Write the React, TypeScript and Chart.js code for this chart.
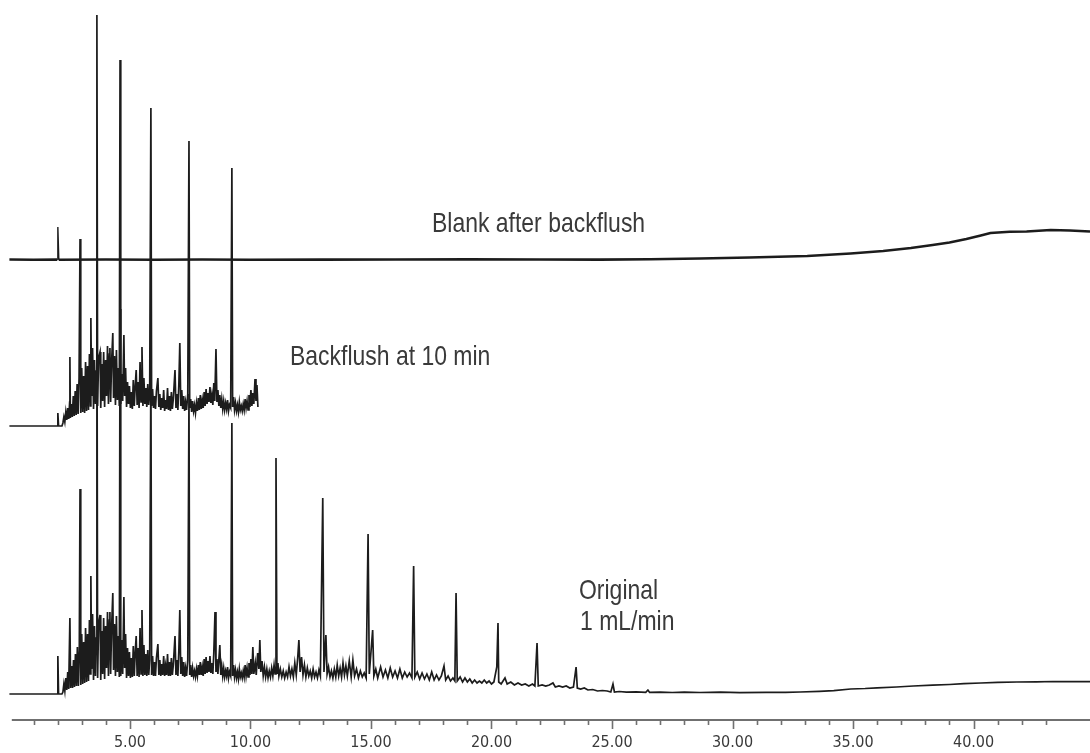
import React, { useEffect, useRef } from "react";
import { Chart, registerables } from "chart.js";

Chart.register(...registerables);

// ---- axis ----
const xMin = -0.39;
const xMax = 44.83;
const yMax = 720;
const majorTicks = [5, 10, 15, 20, 25, 30, 35, 40];
const minorTicks = [1, 2, 3, 4, 6, 7, 8, 9, 11, 12, 13, 14, 16, 17, 18, 19, 21, 22, 23, 24, 26, 27, 28, 29, 31, 32, 33, 34, 36, 37, 38, 39, 41, 42, 43];

// ---- vertical offsets of the stacked chromatograms ----
const blankOffset = 460;
const backflushOffset = 294;
const originalOffset = 26;

// ---- traces: [time (min), response above own baseline] ----
const blankTrace: [number, number][] = [
  [0, 0.5], [1.0, 0.3], [1.98, 0.4], [2.01, 33], [2.05, 0.3], [4, 0.5], [6, 0.3], [8, 0.5], [10, 0.3],
  [13, 0.4], [16, 0.5], [19, 0.6], [22, 0.5], [24.5, 0.4], [26.6, 0.8], [28.65, 1.5], [30.7, 2.5],
  [33.1, 4], [34.9, 6.5], [36.25, 9], [37.4, 12], [38.3, 15], [39.0, 17.5], [39.7, 21], [40.3, 24.5],
  [40.7, 27], [41.5, 28.2], [42.2, 28.5], [43.2, 30], [44.0, 29.5], [44.83, 28.5],
];

const backflushTrace: [number, number][] = [
  [0, 0], [1.98, 0], [2.01, 13], [2.04, 0], [2.18, 0],
  [2.22, 3], [2.26, 9], [2.30, 4], [2.34, 14], [2.38, 6], [2.42, 18], [2.46, 7], [2.50, 24], [2.51, 69],
  [2.53, 8], [2.57, 22], [2.61, 9], [2.65, 30], [2.69, 10], [2.73, 35], [2.77, 11], [2.81, 42], [2.85, 12],
  [2.89, 48], [2.93, 187], [2.96, 13], [3.00, 58], [3.04, 14], [3.08, 50], [3.12, 13], [3.16, 64], [3.20, 15],
  [3.24, 60], [3.28, 16], [3.32, 72], [3.36, 20], [3.38, 108], [3.41, 30], [3.45, 78], [3.49, 17], [3.53, 66],
  [3.57, 22], [3.61, 55], [3.63, 411], [3.66, 20], [3.70, 68], [3.76, 74], [3.79, 18], [3.83, 62], [3.87, 25],
  [3.91, 74], [3.95, 19], [3.99, 66], [4.03, 30], [4.07, 80], [4.11, 22], [4.15, 72], [4.17, 78], [4.20, 24],
  [4.24, 64], [4.29, 93], [4.32, 28], [4.36, 70], [4.40, 21], [4.44, 76], [4.48, 26], [4.52, 58], [4.56, 20],
  [4.59, 366], [4.62, 22], [4.66, 52], [4.70, 25], [4.75, 91], [4.78, 30], [4.82, 58], [4.86, 19], [4.90, 44],
  [4.94, 22], [4.98, 40], [5.02, 18], [5.06, 34], [5.10, 17], [5.14, 46], [5.18, 20], [5.22, 40], [5.26, 56],
  [5.30, 21], [5.34, 44], [5.38, 18], [5.42, 64], [5.46, 24], [5.50, 79], [5.54, 20], [5.58, 48], [5.62, 22],
  [5.66, 38], [5.70, 19], [5.74, 42], [5.78, 21], [5.82, 32], [5.87, 318], [5.90, 20], [5.94, 37], [5.98, 18],
  [6.02, 30], [6.06, 17], [6.10, 35], [6.16, 48], [6.20, 19], [6.24, 32], [6.28, 16], [6.32, 28], [6.36, 18],
  [6.40, 36], [6.44, 15], [6.48, 26], [6.52, 17], [6.56, 38], [6.60, 16], [6.64, 30], [6.68, 15], [6.72, 34],
  [6.76, 17], [6.80, 27], [6.87, 56], [6.91, 18], [6.95, 32], [6.99, 16], [7.03, 42], [7.07, 83], [7.11, 20],
  [7.15, 36], [7.19, 17], [7.23, 30], [7.27, 15], [7.31, 24], [7.35, 16], [7.40, 32], [7.45, 285], [7.48, 18],
  [7.52, 27], [7.56, 14], [7.60, 25], [7.64, 15], [7.68, 21], [7.72, 13], [7.76, 23], [7.80, 15], [7.84, 28],
  [7.88, 16], [7.92, 31], [7.96, 17], [8.00, 26], [8.04, 18], [8.08, 34], [8.12, 20], [8.16, 37], [8.20, 22],
  [8.24, 33], [8.28, 24], [8.32, 39], [8.36, 23], [8.40, 31], [8.44, 21], [8.48, 43], [8.52, 25], [8.57, 77],
  [8.61, 24], [8.65, 36], [8.69, 20], [8.73, 31], [8.77, 18], [8.81, 27], [8.85, 17], [8.89, 25], [8.93, 16],
  [8.97, 23], [9.01, 17], [9.05, 26], [9.09, 15], [9.13, 21], [9.18, 18], [9.23, 258], [9.26, 19], [9.30, 29],
  [9.34, 16], [9.38, 23], [9.42, 15], [9.46, 21], [9.50, 14], [9.54, 24], [9.58, 16], [9.62, 20], [9.66, 15],
  [9.70, 22], [9.74, 16], [9.78, 27], [9.82, 18], [9.86, 25], [9.90, 16], [9.94, 31], [9.98, 19], [10.02, 36],
  [10.06, 20], [10.10, 33], [10.14, 22], [10.19, 47], [10.23, 25], [10.27, 41], [10.31, 19],
];

const originalTrace: [number, number][] = [
  [0, 0], [1.98, 0], [2.01, 38], [2.04, 0], [2.18, 0],
  [2.22, 2], [2.26, 10], [2.30, 3], [2.34, 16], [2.38, 4], [2.42, 22], [2.46, 5], [2.51, 76], [2.54, 6],
  [2.58, 28], [2.62, 6], [2.66, 34], [2.70, 7], [2.74, 40], [2.78, 8], [2.82, 47], [2.86, 8], [2.90, 44],
  [2.93, 205], [2.96, 9], [3.00, 60], [3.04, 10], [3.08, 52], [3.12, 11], [3.16, 66], [3.20, 12], [3.24, 60],
  [3.28, 13], [3.32, 74], [3.35, 20], [3.38, 118], [3.41, 25], [3.45, 80], [3.49, 14], [3.53, 68], [3.57, 18],
  [3.60, 56], [3.63, 430], [3.66, 16], [3.70, 70], [3.76, 79], [3.79, 14], [3.83, 63], [3.87, 20], [3.91, 76],
  [3.95, 15], [3.99, 68], [4.03, 26], [4.07, 82], [4.11, 18], [4.15, 74], [4.17, 82], [4.20, 20], [4.24, 66],
  [4.29, 101], [4.32, 24], [4.36, 70], [4.40, 18], [4.44, 78], [4.48, 22], [4.52, 58], [4.56, 17], [4.59, 385],
  [4.62, 18], [4.66, 54], [4.70, 20], [4.75, 97], [4.78, 26], [4.82, 60], [4.86, 16], [4.90, 46], [4.94, 18],
  [4.98, 42], [5.02, 16], [5.06, 36], [5.10, 17], [5.14, 48], [5.18, 18], [5.22, 42], [5.26, 58], [5.30, 18],
  [5.34, 46], [5.38, 17], [5.42, 66], [5.46, 20], [5.50, 84], [5.54, 18], [5.58, 49], [5.62, 19], [5.66, 40],
  [5.70, 18], [5.74, 44], [5.78, 19], [5.82, 34], [5.87, 335], [5.90, 19], [5.94, 38], [5.98, 18], [6.02, 32],
  [6.06, 18], [6.10, 36], [6.16, 50], [6.20, 19], [6.24, 34], [6.28, 18], [6.32, 30], [6.36, 19], [6.40, 38],
  [6.44, 18], [6.48, 28], [6.52, 19], [6.56, 40], [6.60, 18], [6.64, 32], [6.68, 18], [6.72, 36], [6.76, 19],
  [6.80, 29], [6.87, 58], [6.91, 19], [6.95, 34], [6.99, 18], [7.03, 44], [7.07, 84], [7.11, 20], [7.15, 37],
  [7.19, 18], [7.23, 32], [7.27, 17], [7.31, 26], [7.35, 18], [7.40, 34], [7.45, 300], [7.48, 19], [7.52, 29],
  [7.56, 17], [7.60, 26], [7.64, 18], [7.68, 23], [7.72, 17], [7.76, 25], [7.80, 18], [7.84, 29], [7.88, 19],
  [7.92, 32], [7.96, 19], [8.00, 27], [8.04, 18], [8.08, 35], [8.12, 20], [8.16, 37], [8.20, 21], [8.24, 33],
  [8.28, 22], [8.32, 38], [8.36, 21], [8.40, 31], [8.44, 20], [8.48, 41], [8.53, 82], [8.57, 22], [8.61, 35],
  [8.65, 20], [8.73, 49], [8.77, 19], [8.81, 28], [8.85, 18], [8.89, 26], [8.93, 17], [8.97, 23], [9.01, 18],
  [9.05, 27], [9.09, 16], [9.13, 22], [9.18, 18], [9.23, 271], [9.26, 18], [9.30, 29], [9.34, 17], [9.38, 24],
  [9.42, 16], [9.46, 22], [9.50, 15], [9.54, 25], [9.58, 17], [9.62, 21], [9.66, 16], [9.70, 23], [9.74, 17],
  [9.78, 29], [9.82, 18], [9.86, 26], [9.90, 17], [9.94, 31], [9.98, 19], [10.02, 35], [10.06, 20], [10.10, 47],
  [10.14, 20], [10.20, 31], [10.24, 19], [10.30, 41], [10.35, 25], [10.39, 54], [10.43, 22], [10.48, 33],
  [10.53, 18], [10.58, 27], [10.63, 17], [10.68, 25], [10.73, 16], [10.78, 23], [10.83, 17], [10.88, 26],
  [10.93, 18], [10.98, 29], [11.02, 20], [11.06, 236], [11.10, 20], [11.14, 31], [11.18, 18], [11.24, 25],
  [11.30, 17], [11.36, 23], [11.42, 16], [11.48, 22], [11.54, 17], [11.60, 27], [11.66, 18], [11.72, 25],
  [11.78, 17], [11.84, 31], [11.90, 19], [11.96, 36], [12.01, 54], [12.06, 22], [12.12, 37], [12.18, 19],
  [12.24, 29], [12.30, 17], [12.36, 26], [12.42, 18], [12.48, 23], [12.54, 16], [12.60, 25], [12.66, 17],
  [12.72, 22], [12.78, 16], [12.84, 24], [12.90, 18], [13.00, 196], [13.05, 22], [13.13, 59], [13.18, 20],
  [13.24, 27], [13.30, 17], [13.36, 23], [13.42, 16], [13.48, 25], [13.54, 17], [13.60, 29], [13.66, 18],
  [13.72, 26], [13.78, 17], [13.84, 31], [13.90, 19], [13.96, 28], [14.02, 18], [14.10, 33], [14.18, 17],
  [14.25, 34], [14.32, 18], [14.40, 25], [14.48, 16], [14.56, 23], [14.64, 17], [14.72, 21], [14.80, 16],
  [14.88, 160], [14.93, 20], [15.07, 64], [15.12, 18], [15.20, 25], [15.28, 16], [15.40, 27], [15.50, 17],
  [15.60, 24], [15.70, 16], [15.80, 26], [15.90, 17], [16.00, 23], [16.10, 16], [16.20, 25], [16.30, 16],
  [16.40, 22], [16.50, 17], [16.60, 21], [16.70, 16], [16.77, 128], [16.82, 17], [16.92, 22], [17.02, 15],
  [17.12, 21], [17.22, 15], [17.32, 20], [17.42, 14], [17.52, 22], [17.62, 14], [17.72, 19], [17.82, 14],
  [17.92, 18], [18.03, 28], [18.10, 14], [18.20, 18], [18.30, 13], [18.40, 16], [18.48, 13], [18.53, 101],
  [18.58, 13], [18.70, 17], [18.80, 12], [18.90, 16], [19.00, 12], [19.10, 15], [19.20, 11], [19.30, 14],
  [19.40, 11], [19.50, 13], [19.60, 11], [19.70, 14], [19.80, 11], [19.90, 13], [20.00, 10], [20.10, 12],
  [20.22, 27], [20.27, 71], [20.30, 12], [20.40, 10], [20.56, 16], [20.65, 10], [20.80, 12], [20.95, 9],
  [21.10, 11], [21.25, 9], [21.40, 10], [21.55, 8], [21.70, 10], [21.80, 8], [21.89, 51], [21.94, 8],
  [22.10, 9], [22.25, 8], [22.40, 9], [22.55, 11], [22.65, 7], [22.80, 8], [22.95, 7], [23.10, 8],
  [23.25, 6], [23.40, 7], [23.51, 27], [23.56, 6], [23.70, 5], [23.85, 6], [24.00, 4], [24.20, 4.5],
  [24.40, 3], [24.60, 3.5], [24.80, 3], [24.95, 2], [25.04, 10], [25.10, 2], [25.30, 2.5], [25.60, 1.8],
  [26.00, 2.2], [26.40, 1.7], [26.49, 4], [26.56, 1.6], [27.0, 1.8], [27.5, 1.5], [28.0, 1.9], [28.65, 1.5],
  [29.5, 1.8], [30.3, 1.4], [31.4, 1.7], [32.2, 1.6], [32.8, 2.0], [33.6, 2.6], [34.2, 3.3], [34.9, 5],
  [35.5, 5.5], [36.0, 6.2], [36.8, 7], [37.5, 8], [38.3, 8.8], [39.0, 9.5], [39.6, 10.3], [40.3, 11],
  [41.0, 11.6], [41.8, 12], [42.6, 12.2], [43.3, 12.5], [44.0, 12.3], [44.83, 12.4],
];

const traceColor = "#1c1c1c";
const textColor = "#3a3a3a";
const labelFont = '"Liberation Sans", Arial, sans-serif';
const tickFont = '"DejaVu Sans Condensed", "Liberation Sans", sans-serif';

function toPoints(trace: [number, number][], offset: number) {
  return trace.map(([t, v]) => ({ x: t, y: v + offset }));
}

const axisPlugin = {
  id: "chromAxis",
  afterDraw(chart: any) {
    const { ctx, chartArea, scales } = chart;
    const xs = scales.x;
    const y0 = chartArea.bottom;
    ctx.save();
    ctx.strokeStyle = "#707070";
    ctx.lineWidth = 2;
    ctx.beginPath();
    ctx.moveTo(xs.getPixelForValue(0.1), y0);
    ctx.lineTo(chart.width, y0);
    ctx.stroke();
    ctx.lineWidth = 1.6;
    ctx.beginPath();
    for (const v of majorTicks) {
      const p = Math.round(xs.getPixelForValue(v)) + 0.5;
      ctx.moveTo(p, y0);
      ctx.lineTo(p, y0 + 9);
    }
    for (const v of minorTicks) {
      const p = Math.round(xs.getPixelForValue(v)) + 0.5;
      ctx.moveTo(p, y0);
      ctx.lineTo(p, y0 + 5);
    }
    ctx.stroke();
    ctx.restore();
  },
};

const labelStyle: React.CSSProperties = {
  position: "absolute",
  fontFamily: labelFont,
  fontSize: 28,
  lineHeight: 1,
  color: textColor,
  whiteSpace: "nowrap",
  transform: "scaleX(0.82)",
  transformOrigin: "0 0",
};

export default function App() {
  const canvasRef = useRef<HTMLCanvasElement>(null);

  useEffect(() => {
    document.body.style.margin = "0";
    const blankPoints = toPoints(blankTrace, blankOffset);
    const chart = new Chart(canvasRef.current as HTMLCanvasElement, {
      type: "line",
      data: {
        datasets: [
          {
            label: "Blank after backflush",
            data: blankPoints,
            borderColor: traceColor,
            borderWidth: 2.6,
            segment: {
              borderWidth: (c: any) => {
                const a = blankPoints[c.p0DataIndex];
                const b = blankPoints[c.p1DataIndex];
                return a && b && a.x >= 1.97 && b.x <= 2.06 ? 1.4 : 2.6;
              },
            },
            pointRadius: 0,
            fill: false,
          },
          {
            label: "Backflush at 10 min",
            data: toPoints(backflushTrace, backflushOffset),
            borderColor: traceColor,
            borderWidth: 1.7,
            pointRadius: 0,
            fill: false,
          },
          {
            label: "Original 1 mL/min",
            data: toPoints(originalTrace, originalOffset),
            borderColor: traceColor,
            borderWidth: 1.7,
            pointRadius: 0,
            fill: false,
          },
        ],
      },
      options: {
        animation: false,
        responsive: false,
        events: [],
        parsing: false,
        normalized: true,
        layout: { padding: 0 },
        elements: { line: { tension: 0 }, point: { radius: 0 } },
        plugins: { legend: { display: false }, tooltip: { enabled: false } },
        scales: {
          x: {
            type: "linear",
            min: xMin,
            max: xMax,
            border: { display: false },
            grid: {
              display: true,
              drawOnChartArea: false,
              drawTicks: true,
              tickLength: 9,
              tickColor: "rgba(0,0,0,0)",
            },
            ticks: {
              stepSize: 1,
              includeBounds: false,
              autoSkip: false,
              maxRotation: 0,
              padding: 3,
              color: textColor,
              font: { family: tickFont, size: 16, lineHeight: 1.375 },
              callback: (v: any) => (majorTicks.includes(Number(v)) ? Number(v).toFixed(2) : ""),
            },
          },
          y: { display: false, min: 0, max: yMax },
        },
      } as any,
      plugins: [axisPlugin],
    });
    return () => chart.destroy();
  }, []);

  return (
    <div style={{ position: "fixed", left: 0, top: 0, width: 1090, height: 753, overflow: "hidden", background: "#fff" }}>
      <canvas ref={canvasRef} width={1090} height={757} style={{ display: "block", width: 1090, height: 757 }} />
      <div style={{ ...labelStyle, left: 432, top: 209 }}>Blank after backflush</div>
      <div style={{ ...labelStyle, left: 290, top: 342 }}>Backflush at 10 min</div>
      <div style={{ ...labelStyle, left: 579, top: 576 }}>Original</div>
      <div style={{ ...labelStyle, left: 580, top: 607 }}>1 mL/min</div>
    </div>
  );
}
